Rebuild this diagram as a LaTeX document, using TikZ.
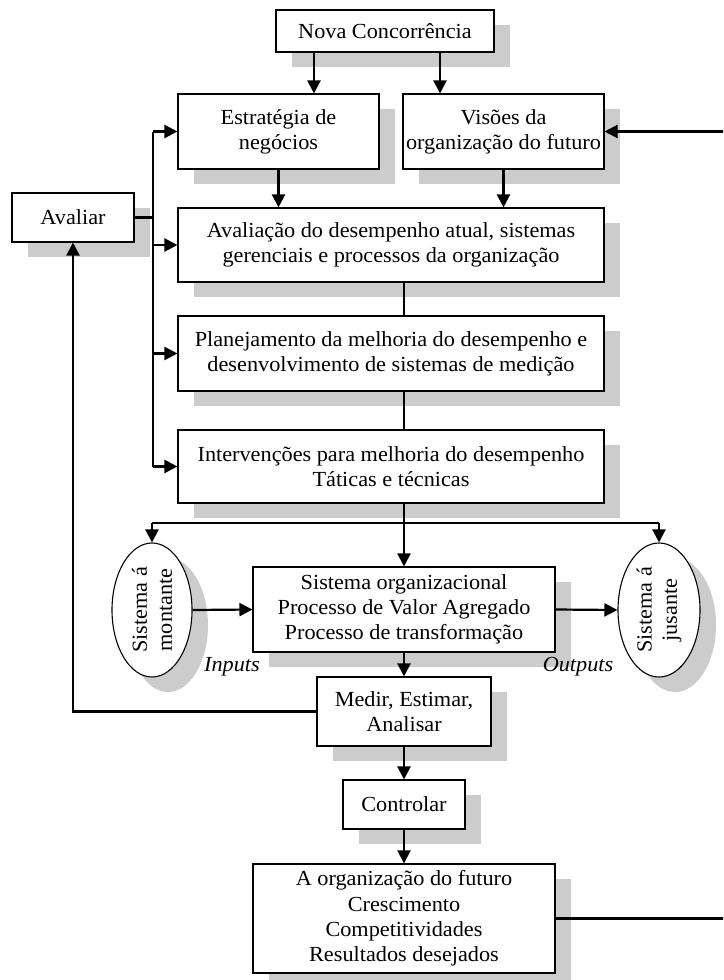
\documentclass[tikz,border=0pt]{standalone}
\usepackage{fontspec}
\setmainfont{Liberation Serif}[FakeStretch=1.035]
\usetikzlibrary{arrows.meta,shapes.geometric,shadows}
\definecolor{shadegray}{RGB}{204,204,204}
\begin{document}
\begin{tikzpicture}[x=1pt,y=-1pt,
  every node/.style={font=\fontsize{21.5}{25.2}\selectfont},
  box/.style={draw, line width=1.1pt, fill=white, align=center, inner sep=0pt,
    general shadow={fill=shadegray, shadow xshift=16pt, shadow yshift=-15pt}},
  oval/.style={ellipse, draw, line width=1.1pt, fill=white, inner sep=0pt,
    general shadow={fill=shadegray, shadow xshift=16pt, shadow yshift=-15pt}},
  conn/.style={line width=2.2pt},
  arr/.style={conn, -{Triangle[length=13pt,width=13pt]}},
]
\useasboundingbox (0,0) rectangle (723,980);
\clip (0,0) rectangle (723,980);

% boxes
\node[box, minimum width=218pt, minimum height=42pt] (nova) at (385,31) {Nova Concorrência};
\node[box, minimum width=201pt, minimum height=75pt] (estr) at (278.5,131.5) {Estratégia de\\negócios};
\node[box, minimum width=201pt, minimum height=75pt] (vis) at (503.5,131.5) {Visões da\\organização do futuro};
\node[box, minimum width=122pt, minimum height=49pt] (avaliar) at (73,217.5) {Avaliar};
\node[box, minimum width=426pt, minimum height=74pt] (aval) at (391,245) {Avaliação do desempenho atual, sistemas\\gerenciais e processos da organização};
\node[box, minimum width=426pt, minimum height=75pt] (plan) at (391,353.5) {Planejamento da melhoria do desempenho e\\desenvolvimento de sistemas de medição};
\node[box, minimum width=426pt, minimum height=73pt] (interv) at (391,466.5) {Intervenções para melhoria do desempenho\\Táticas e técnicas};
\node[box, minimum width=302pt, minimum height=85pt] (sist) at (404,609.5) {Sistema organizacional\\Processo de Valor Agregado\\Processo de transformação};
\node[box, minimum width=174pt, minimum height=69pt] (medir) at (404,711.5) {Medir, Estimar,\\Analisar};
\node[box, minimum width=122pt, minimum height=49pt] (ctrl) at (404,804.5) {Controlar};
\node[box, minimum width=302pt, minimum height=109pt] (fut) at (404,918.5) {A organização do futuro\\Crescimento\\Competitividades\\Resultados desejados};

% upstream and downstream systems
\node[oval, minimum width=80pt, minimum height=134pt] (elL) at (152,610) {};
\node[rotate=90, align=center] (elLt) at (elL) {Sistema á\\montante};
\node[oval, minimum width=82pt, minimum height=134pt] (elR) at (659,610) {};
\node[rotate=90, align=center] (elRt) at (elR) {Sistema á\\jusante};

\node[font=\fontsize{21.5}{25.2}\selectfont\itshape] (inp) at (232,667) {Inputs};
\node[font=\fontsize{21.5}{25.2}\selectfont\itshape] (outp) at (578,667) {Outputs};

% helper points
\coordinate (busT) at (153,131.5);
\coordinate (busB) at (153,466.5);
\coordinate (hbus) at (404,523);
\coordinate (rt) at (727,0);

% connectors
\draw[arr] ([xshift=-71pt]nova.south) -- ([xshift=-71pt]nova.south |- estr.north);
\draw[arr] ([xshift=55pt]nova.south) -- ([xshift=55pt]nova.south |- vis.north);
\draw[arr] (estr.south) -- (estr.south |- aval.north);
\draw[arr] (vis.south) -- (vis.south |- aval.north);
\draw[conn] (sist.north |- aval.south) -- (sist.north |- plan.north);
\draw[conn] (sist.north |- plan.south) -- (sist.north |- interv.north);
\draw[arr] (sist.north |- interv.south) -- (sist.north);

\draw[conn] (busT) -- (busB);
\draw[arr] (busT) -- (estr.west);
\draw[arr] (aval.west -| busT) -- (aval.west);
\draw[arr] (plan.west -| busT) -- (plan.west);
\draw[arr] (busB) -- (interv.west);
\draw[conn] (avaliar.east) -- (avaliar.east -| busT);

\draw[conn] (elL.north |- hbus) -- (elR.north |- hbus);
\draw[arr] (elL.north |- hbus) -- (elL.north);
\draw[arr] (elR.north |- hbus) -- (elR.north);
\draw[arr] (elL.east) -- (sist.west);
\draw[arr] (sist.east) -- (elR.west);

\draw[arr] (sist.south) -- (medir.north);
\draw[arr] (medir.south) -- (ctrl.north);
\draw[arr] (ctrl.south) -- (fut.north);
\draw[arr] (medir.west) -| (avaliar.south);
\draw[arr] (fut.east) -- (fut.east -| rt) |- (vis.east);
\end{tikzpicture}
\end{document}
